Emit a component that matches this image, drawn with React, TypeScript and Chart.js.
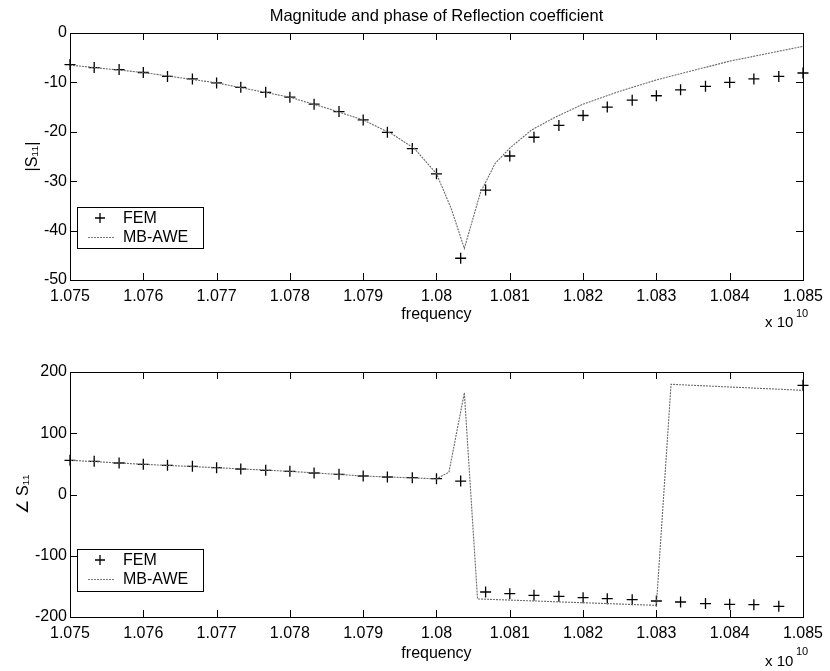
import React, { useEffect, useRef } from "react";
import { Chart, registerables } from "chart.js";

Chart.register(...registerables);

const FONT = '"Liberation Sans", Arial, Helvetica, sans-serif';

// frequency axis (units of 1e10 Hz)
const freqTicks = [1.075, 1.076, 1.077, 1.078, 1.079, 1.08, 1.081, 1.082, 1.083, 1.084, 1.085];
const magTicks = [0, -10, -20, -30, -40, -50];
const phaseTicks = [200, 100, 0, -100, -200];

// FEM samples
const femFreq = [
  1.075, 1.07533, 1.07567, 1.076, 1.07633, 1.07667, 1.077, 1.07733, 1.07767, 1.078, 1.07833,
  1.07867, 1.079, 1.07933, 1.07967, 1.08, 1.08033, 1.08067, 1.081, 1.08133, 1.08167, 1.082,
  1.08233, 1.08267, 1.083, 1.08333, 1.08367, 1.084, 1.08433, 1.08467, 1.085,
];
const femMag = [
  -6.4, -7.0, -7.4, -8.0, -8.8, -9.3, -10.1, -11.0, -12.0, -13.0, -14.4,
  -15.9, -17.6, -20.1, -23.4, -28.5, -45.6, -31.8, -24.9, -21.1, -18.7, -16.7,
  -15.0, -13.6, -12.7, -11.5, -10.8, -10.0, -9.3, -8.8, -8.1,
];
const femPhase = [
  55.8, 54.2, 51.4, 49.3, 47.6, 46.0, 43.8, 41.6, 39.5, 37.8, 35.1,
  32.9, 30.2, 28.6, 27.5, 25.8, 22.0, -159.2, -161.9, -164.6, -166.3, -168.4,
  -170.1, -171.7, -173.9, -175.5, -178.0, -179.3, -179.8, -182.5, 178.2,
];

// MB-AWE model curves
const aweMagFreq = [
  1.075, 1.076, 1.077, 1.078, 1.0785, 1.079, 1.0794, 1.0797, 1.08, 1.0802, 1.08038,
  1.0806, 1.0808, 1.081, 1.0813, 1.0816, 1.082, 1.0825, 1.083, 1.0835, 1.084, 1.0845, 1.085,
];
const aweMag = [
  -6.5, -8.0, -10.1, -13.0, -15.2, -17.6, -20.5, -23.4, -28.5, -35.5, -43.6,
  -32.3, -26.4, -23.3, -19.6, -17.2, -14.4, -11.8, -9.5, -7.6, -5.7, -4.2, -2.7,
];
const awePhaseFreq = [
  1.075, 1.076, 1.077, 1.078, 1.079, 1.0797, 1.08, 1.08017, 1.08038, 1.08056,
  1.083, 1.0832, 1.085,
];
const awePhase = [
  55.8, 49.3, 43.8, 37.8, 30.2, 27.0, 25.5, 36.5, 166.0, -170.5,
  -181.0, 179.9, 170.1,
];

const toPts = (xs: number[], ys: number[]) => xs.map((x, i) => ({ x, y: ys[i] }));

type Opts = {
  title?: string;
  femY: number[];
  aweX: number[];
  aweY: number[];
  yTicks: number[];
  yLabel: string;
  padTop: number;
  xAxisH: number;
  xTitlePadBottom: number;
  yTitlePadTop: number;
  legendBox: { x: number; y: number; w: number; h: number };
  expo: { x: number; y: number; sx: number; sy: number };
};

const framePlugin = {
  id: "matlabFrame",
  afterDatasetsDraw(chart: any, _args: any, o: any) {
    const { ctx, chartArea: a, scales } = chart;
    ctx.save();
    ctx.strokeStyle = "#000";
    ctx.lineWidth = 1;
    // inward ticks
    const tl = 7;
    ctx.beginPath();
    scales.x.ticks.forEach((t: any) => {
      const px = Math.round(scales.x.getPixelForValue(t.value)) + 0.5;
      ctx.moveTo(px, a.bottom);
      ctx.lineTo(px, a.bottom - tl);
      ctx.moveTo(px, a.top);
      ctx.lineTo(px, a.top + tl);
    });
    scales.y.ticks.forEach((t: any) => {
      const py = Math.round(scales.y.getPixelForValue(t.value)) + 0.5;
      ctx.moveTo(a.left, py);
      ctx.lineTo(a.left + tl, py);
      ctx.moveTo(a.right, py);
      ctx.lineTo(a.right - tl, py);
    });
    ctx.stroke();
    ctx.strokeRect(Math.round(a.left) + 0.5, Math.round(a.top) + 0.5, Math.round(a.right - a.left), Math.round(a.bottom - a.top));

    // legend
    const b = o.legendBox;
    ctx.fillStyle = "#fff";
    ctx.fillRect(b.x, b.y, b.w, b.h);
    ctx.strokeRect(b.x + 0.5, b.y + 0.5, b.w, b.h);
    const px = b.x + 23;
    const py = b.y + 11;
    ctx.lineWidth = 1.3;
    ctx.beginPath();
    ctx.moveTo(px - 5, py);
    ctx.lineTo(px + 5, py);
    ctx.moveTo(px, py - 5);
    ctx.lineTo(px, py + 5);
    ctx.stroke();
    ctx.strokeStyle = "#777";
    ctx.lineWidth = 1;
    ctx.setLineDash([2, 1]);
    ctx.beginPath();
    ctx.moveTo(b.x + 11, b.y + 30.5);
    ctx.lineTo(b.x + 37, b.y + 30.5);
    ctx.stroke();
    ctx.setLineDash([]);
    ctx.fillStyle = "#000";
    ctx.font = `16px ${FONT}`;
    ctx.textBaseline = "middle";
    ctx.textAlign = "left";
    ctx.fillText("FEM", b.x + 46, b.y + 11.5);
    ctx.fillText("MB-AWE", b.x + 46, b.y + 31);

    // exponent label
    const e = o.expo;
    ctx.font = `15px ${FONT}`;
    ctx.fillText("x 10", e.x, e.y);
    ctx.font = `11px ${FONT}`;
    ctx.fillText("10", e.sx, e.sy);
    ctx.restore();
  },
};

function makeChart(canvas: HTMLCanvasElement, o: Opts) {
  return new Chart(canvas, {
    type: "scatter",
    data: {
      datasets: [
        {
          label: "MB-AWE",
          data: toPts(o.aweX, o.aweY),
          showLine: true,
          borderColor: "#6a6a6a",
          borderWidth: 1.1,
          borderDash: [2, 1],
          pointRadius: 0,
          tension: 0,
          fill: false,
        },
        {
          label: "FEM",
          data: toPts(femFreq, o.femY),
          showLine: false,
          pointStyle: "cross",
          pointRadius: 5.5,
          pointBorderWidth: 1.3,
          pointBorderColor: "#000",
          pointBackgroundColor: "#000",
          borderColor: "#000",
          clip: false as any,
        },
      ],
    },
    options: {
      responsive: false,
      animation: false,
      events: [],
      layout: { padding: { top: o.padTop, right: 23, left: 0, bottom: 0 } },
      plugins: {
        legend: { display: false },
        tooltip: { enabled: false },
        title: {
          display: !!o.title,
          text: o.title || "",
          fullSize: false,
          color: "#000",
          font: { family: FONT, size: 16.5, weight: "normal" as any },
          padding: { top: 6.5, bottom: 6.7 },
        },
        matlabFrame: { legendBox: o.legendBox, expo: o.expo },
      } as any,
      scales: {
        x: {
          type: "linear",
          min: freqTicks[0],
          max: freqTicks[freqTicks.length - 1],
          afterBuildTicks: (s: any) => {
            s.ticks = freqTicks.map((v) => ({ value: v }));
          },
          afterFit: (s: any) => {
            s.height = o.xAxisH;
          },
          grid: { display: false, drawTicks: false },
          border: { display: false },
          ticks: {
            autoSkip: false,
            maxRotation: 0,
            padding: 7,
            color: "#000",
            font: { family: FONT, size: 16 },
            callback: (v: any) => String(Number(Number(v).toFixed(3))),
          },
          title: {
            display: true,
            text: "frequency",
            color: "#000",
            font: { family: FONT, size: 16 },
            padding: { top: 0, bottom: o.xTitlePadBottom },
          },
        },
        y: {
          type: "linear",
          min: o.yTicks[o.yTicks.length - 1],
          max: o.yTicks[0],
          afterBuildTicks: (s: any) => {
            s.ticks = o.yTicks.map((v) => ({ value: v }));
          },
          afterFit: (s: any) => {
            s.width = 70;
          },
          grid: { display: false, drawTicks: false },
          border: { display: false },
          ticks: {
            autoSkip: false,
            padding: 3,
            color: "#000",
            font: { family: FONT, size: 16 },
          },
          title: {
            display: true,
            text: o.yLabel,
            color: "#000",
            font: { family: FONT, size: 16 },
            padding: { top: o.yTitlePadTop, bottom: 0 },
          },
        },
      },
    },
    plugins: [framePlugin as any],
  });
}

export default function App() {
  const topRef = useRef<HTMLCanvasElement>(null);
  const botRef = useRef<HTMLCanvasElement>(null);

  useEffect(() => {
    const c1 = makeChart(topRef.current!, {
      title: "Magnitude and phase of Reflection coefficient",
      femY: femMag,
      aweX: aweMagFreq,
      aweY: aweMag,
      yTicks: magTicks,
      yLabel: "|S₁₁|",
      padTop: 0,
      xAxisH: 50,
      xTitlePadBottom: 6,
      yTitlePadTop: 23.4,
      legendBox: { x: 77, y: 207, w: 126, h: 41 },
      expo: { x: 765, y: 322.5, sx: 796, sy: 314 },
    });
    const c2 = makeChart(botRef.current!, {
      femY: femPhase,
      aweX: awePhaseFreq,
      aweY: awePhase,
      yTicks: phaseTicks,
      yLabel: "∠ S₁₁",
      padTop: 42,
      xAxisH: 54,
      xTitlePadBottom: 8,
      yTitlePadTop: 14.4,
      legendBox: { x: 77, y: 219, w: 126, h: 42 },
      expo: { x: 765, y: 331.5, sx: 796, sy: 322 },
    });
    return () => {
      c1.destroy();
      c2.destroy();
    };
  }, []);

  return (
    <div style={{ position: "absolute", left: 0, top: 0, width: 830, height: 671, background: "#fff" }}>
      <canvas
        ref={topRef}
        width={830}
        height={330}
        style={{ position: "absolute", left: 0, top: 0, width: 830, height: 330 }}
      />
      <canvas
        ref={botRef}
        width={830}
        height={341}
        style={{ position: "absolute", left: 0, top: 330, width: 830, height: 341 }}
      />
    </div>
  );
}
